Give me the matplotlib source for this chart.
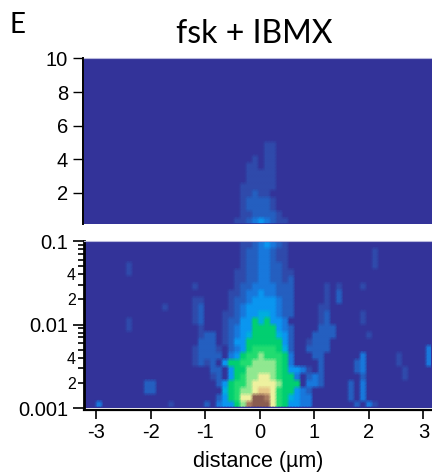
#!/usr/bin/env python3
"""fsk + IBMX heatmap: linear panel on top, log panel below, shared distance axis."""
import matplotlib
matplotlib.use("Agg")
import matplotlib.pyplot as plt
from matplotlib.colors import LinearSegmentedColormap
import numpy as np

W, H = 432, 473

# colour levels, 0 = background, c = brown peak
LEVEL_COLORS = ["#333399", "#2f4aab", "#2460c0", "#1878dc", "#0a96f0", "#00aee0", "#00cf70",
                "#20dc70", "#90e890", "#eef2a0", "#e8c888", "#a87a60", "#8a5c50"]

# each row is 58 bins of distance, top row first, '.' = 0
LOWER_ROWS = [
    ".......... .......... ......1123 4321...... .......... ........",
    ".......... .......... ......1223 3211...... ........1. ........",
    ".......... .......... ......1223 3211...... ........1. ........",
    ".......1.. .......... ......1223 3221...... ........1. ........",
    ".......1.. .......... .....11223 32211..... .......... ........",
    ".......... .......... .....11223 32212..... .......... ........",
    ".......... ........1. .....12233 33222..... 1.1...1... ........",
    ".......... .......... ....112334 33222..... 1.2....... ........",
    ".......... ........11 ....122344 44322..... 1.2....... ........",
    ".......... ...1....12 ....123444 44322....1 1......... ........",
    ".......... ........12 ...1123445 54322....1 2.....1... ........",
    ".......1.. ........12 ...1224465 6443.....1 2.....1... ........",
    ".......1.. .........1 ...1234466 66432....2 22........ ........",
    ".......... .........1 22.1234566 66542...22 22.....1.. ........",
    ".......... .........2 22.1244666 66642..122 2......... ........",
    ".......... ........12 221.234677 77652..222 2......... .......3",
    ".......... ........12 222.346778 77763...22 ......3... ..1....3",
    ".......... ........12 12.4667788 88763....2 .....23... ..1....3",
    ".......... .......... .22.466888 88764431.2 .....23... ...1....",
    ".......... .......... .12.467889 987663.232 ......2... ...1....",
    ".......... 22........ ..24677899 998666.332 ....2.3... ........",
    ".......... 22........ ...567889a a9766432.. ....2.3... ........",
    ".......... .......... ..246799cc b9765433.. ....2.3... ........",
    "..3....... ....1..... 2.34468bcc c9764433.. .....2.31. ........",
]

UPPER_ROWS = [
    ".......... .......... .......... .......... .......... ........",
    ".......... .......... .......... .......... .......... ........",
    ".......... .......... .......... .......... .......... ........",
    ".......... .......... .......... .......... .......... ........",
    ".......... .......... .......... .......... .......... ........",
    ".......... .......... .......... .......... .......... ........",
    ".......... .......... .......... .......... .......... ........",
    ".......... .......... .......... .......... .......... ........",
    ".......... .......... .......... .......... .......... ........",
    ".......... .......... .......... .......... .......... ........",
    ".......... .......... .......... .......... .......... ........",
    ".......... .......... .......... .......... .......... ........",
    ".......... .......... .......... 11........ .......... ........",
    ".......... .......... .......... 11........ .......... ........",
    ".......... .......... ........1. 11........ .......... ........",
    ".......... .......... .......11. 11........ .......... ........",
    ".......... .......... .......111 11........ .......... ........",
    ".......... .......... .......111 11........ .......... ........",
    ".......... .......... ......1111 11........ .......... ........",
    ".......... .......... ......1121 1......... .......... ........",
    ".......... .......... ......1222 21........ .......... ........",
    ".......... .......... ......1222 21........ .......... ........",
    ".......... .......... ......1122 221....... .......... ........",
    ".......... .......... .....11234 3211...... .......... ........",
]

UPPER_TICKS = [2, 4, 6, 8, 10]
UPPER_LABELS = ["2", "4", "6", "8", "10"]
LOWER_TICKS = [0.001, 0.01, 0.1]
LOWER_LABELS = ["0.001", "0.01", "0.1"]
LOWER_MINOR = [0.002, 0.003, 0.004, 0.005, 0.006, 0.007, 0.008, 0.009,
               0.02, 0.03, 0.04, 0.05, 0.06, 0.07, 0.08, 0.09]
LOWER_MINOR_LABELS = ["2", "", "4", "", "", "", "", "", "2", "", "4", "", "", "", "", ""]
X_TICKS = [-3, -2, -1, 0, 1, 2, 3]
X_LIM = (-3.229, 3.156)

plt.rcParams["font.family"] = ["Liberation Sans", "DejaVu Sans"]


def parse_rows(rows):
    grid = [[0 if ch == "." else int(ch, 16) for ch in r.replace(" ", "")] for r in rows]
    return np.array(grid, dtype=float)[::-1]


def soft_mesh(ax, grid, y_edges):
    # vertices at 1/4 and 3/4 of each bin keep the blocks but soften their borders
    x_edges = np.linspace(X_LIM[0], X_LIM[1], grid.shape[1] + 1)
    xs = np.ravel(np.column_stack([0.75 * x_edges[:-1] + 0.25 * x_edges[1:],
                                   0.25 * x_edges[:-1] + 0.75 * x_edges[1:]]))
    ys = np.ravel(np.column_stack([0.75 * y_edges[:-1] + 0.25 * y_edges[1:],
                                   0.25 * y_edges[:-1] + 0.75 * y_edges[1:]]))
    vals = np.repeat(np.repeat(grid, 2, axis=0), 2, axis=1)
    return ax.pcolormesh(xs, ys, vals, shading="gouraud", cmap=cmap, vmin=0,
                         vmax=len(LEVEL_COLORS) - 1, rasterized=True)


def axes_px(left, top, right, bottom):
    return fig.add_axes([left / W, 1 - bottom / H, (right - left) / W, (bottom - top) / H])


cmap = LinearSegmentedColormap.from_list("levels", LEVEL_COLORS, N=256)
fig = plt.figure(figsize=(W / 100, H / 100), dpi=100)

# top panel, linear
ax_top = axes_px(84, 58.5, 432, 224.5)
ax_top.set_facecolor(LEVEL_COLORS[0])
top_grid = parse_rows(UPPER_ROWS)
soft_mesh(ax_top, top_grid, np.linspace(0.1, 10, top_grid.shape[0] + 1))
ax_top.set_xlim(*X_LIM)
ax_top.set_ylim(0.1, 10)
ax_top.set_xticks([])
ax_top.set_yticks(UPPER_TICKS, UPPER_LABELS)
ax_top.tick_params(axis="y", length=7.5, width=1, pad=3, labelsize=14.5)
for side in ("right", "bottom"):
    ax_top.spines[side].set_visible(False)
ax_top.spines["top"].set(color="#b9b9dc", linewidth=0.8)
ax_top.spines["left"].set(linewidth=1.4, position=("outward", 1))

# bottom panel, log
ax_low = axes_px(84, 241, 432, 408)
ax_low.set_facecolor(LEVEL_COLORS[0])
low_grid = parse_rows(LOWER_ROWS)
soft_mesh(ax_low, low_grid, np.logspace(-3, -1, low_grid.shape[0] + 1))
ax_low.set_yscale("log")
ax_low.set_xlim(*X_LIM)
ax_low.set_ylim(0.001, 0.1)
ax_low.set_yticks(LOWER_TICKS, LOWER_LABELS)
ax_low.set_yticks(LOWER_MINOR, LOWER_MINOR_LABELS, minor=True)
ax_low.tick_params(axis="y", which="major", length=8, width=1.2, pad=3.5, labelsize=14.5)
ax_low.tick_params(axis="y", which="minor", length=4.5, width=1.2, pad=1.5, labelsize=11.5)
ax_low.set_xticks(X_TICKS, [str(v) for v in X_TICKS])
ax_low.tick_params(axis="x", length=6.5, width=1.2, pad=3, labelsize=14.5)
ax_low.spines["right"].set_visible(False)
ax_low.spines["top"].set(color="#b9b9dc", linewidth=0.8)
ax_low.spines["left"].set(linewidth=2)
ax_low.spines["bottom"].set(linewidth=1.6, position=("outward", 1.2))
ax_low.set_xlabel("distance (µm)", fontsize=15.5, labelpad=6.5)

fig.text(254 / W, 1 - 34 / H, "fsk + IBMX", family="Lato", fontsize=23, ha="center", va="center")
fig.text(9 / W, 1 - 33 / H, "E", family="Lato", fontsize=20, ha="left", va="baseline")

fig.savefig("out.png", dpi=100)
